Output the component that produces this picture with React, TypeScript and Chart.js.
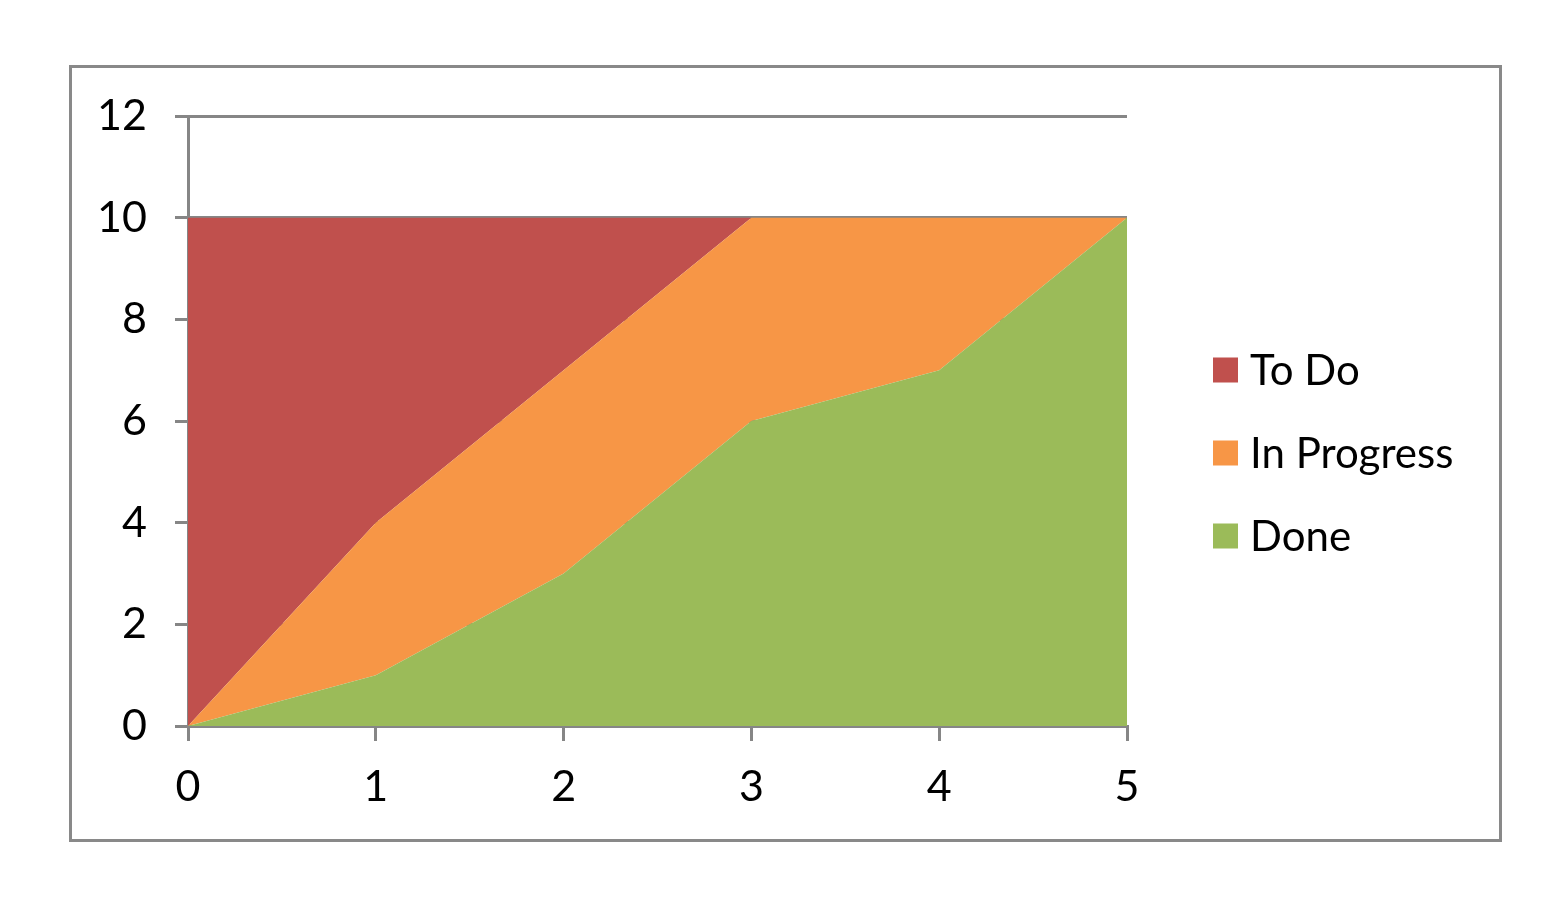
import React, { useEffect, useRef } from "react";
import { Chart, registerables } from "chart.js";

Chart.register(...registerables);

const categories = ["0", "1", "2", "3", "4", "5"];
const seriesNames = ["Done", "In Progress", "To Do"];
const doneValues = [0, 1, 3, 6, 7, 10];
const inProgressValues = [0, 3, 4, 4, 3, 0];
const toDoValues = [10, 6, 3, 0, 0, 0];
const seriesColors = ["#9BBB59", "#F79646", "#C0504D"];
const yMin = 0;
const yMax = 12;
const yStep = 2;

const FONT = "Lato, 'Open Sans', sans-serif";
const AXIS_GREY = "#868686";

const framePlugin = {
  id: "frame",
  beforeDraw(chart: any) {
    const ctx = chart.ctx;
    ctx.save();
    ctx.fillStyle = "#ffffff";
    ctx.fillRect(0, 0, chart.width, chart.height);
    ctx.strokeStyle = "#898989";
    ctx.lineWidth = 3;
    ctx.strokeRect(70.5, 66.5, 1430, 774);
    ctx.restore();
  },
};

const legendPlugin = {
  id: "sideLegend",
  afterDraw(chart: any) {
    const ctx = chart.ctx;
    const ds = chart.data.datasets.slice().reverse();
    ctx.save();
    ctx.font = `42px ${FONT}`;
    ctx.textBaseline = "middle";
    ctx.textAlign = "left";
    ds.forEach((d: any, i: number) => {
      const cy = 370 + i * 83;
      ctx.fillStyle = d.backgroundColor;
      ctx.fillRect(1213, cy - 12.5, 25, 25);
      ctx.fillStyle = "#000000";
      ctx.fillText(d.label, 1250, cy + 1);
    });
    ctx.restore();
  },
};

export default function App() {
  const ref = useRef<HTMLCanvasElement | null>(null);

  useEffect(() => {
    if (!ref.current) return;
    const valueSets = [doneValues, inProgressValues, toDoValues];
    const chart = new Chart(ref.current, {
      type: "line",
      data: {
        labels: categories,
        datasets: valueSets.map((vals, i) => ({
          label: seriesNames[i],
          data: vals,
          backgroundColor: seriesColors[i],
          borderColor: seriesColors[i],
          borderWidth: 0,
          pointRadius: 0,
          tension: 0,
          fill: i === 0 ? "origin" : "-1",
        })),
      },
      options: {
        animation: false,
        responsive: false,
        devicePixelRatio: 1,
        layout: { padding: { left: 100, right: 432, top: 116, bottom: 88 } },
        plugins: {
          legend: { display: false },
          tooltip: { enabled: false },
        },
        scales: {
          x: {
            type: "category",
            offset: false,
            grid: {
              drawOnChartArea: false,
              drawTicks: true,
              tickLength: 15,
              tickWidth: 3,
              color: AXIS_GREY,
              lineWidth: 3,
            },
            border: { display: true, color: AXIS_GREY, width: 3 },
            ticks: {
              color: "#000000",
              font: { family: FONT, size: 43 },
              padding: 20,
              maxRotation: 0,
            },
            afterFit(scale: any) {
              scale.height = 100;
            },
          },
          y: {
            stacked: true,
            min: yMin,
            max: yMax,
            grid: {
              drawOnChartArea: true,
              drawTicks: true,
              tickLength: 13,
              color: AXIS_GREY,
              lineWidth: 3,
            },
            border: { display: true, color: AXIS_GREY, width: 3 },
            ticks: {
              stepSize: yStep,
              color: "#000000",
              font: { family: FONT, size: 43 },
              padding: 28,
            },
            afterFit(scale: any) {
              scale.width = 88;
            },
          },
        },
      },
      plugins: [framePlugin, legendPlugin],
    });
    return () => chart.destroy();
  }, []);

  return (
    <div style={{ position: "fixed", left: 0, top: 0, width: 1559, height: 914, background: "#fff" }}>
      <canvas ref={ref} width={1559} height={914} style={{ display: "block" }} />
    </div>
  );
}
